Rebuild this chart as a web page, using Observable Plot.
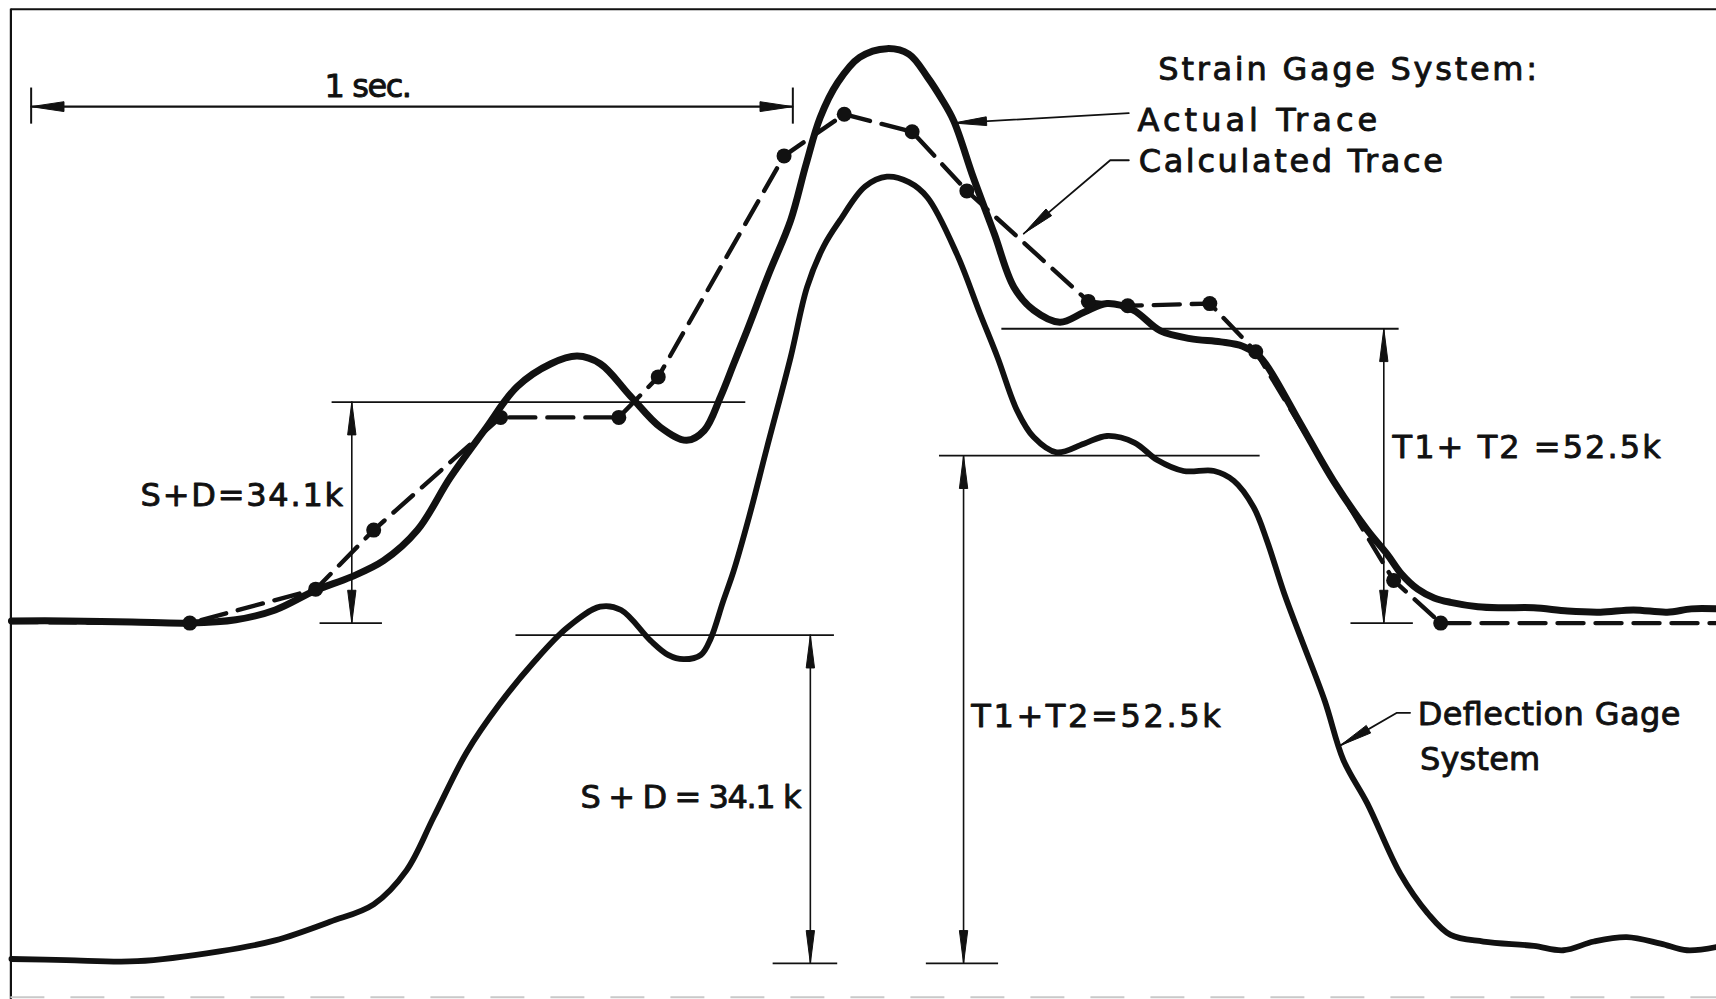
<!DOCTYPE html>
<html>
<head>
<meta charset="utf-8">
<script src="https://cdn.jsdelivr.net/npm/d3@7"></script>
<script src="https://cdn.jsdelivr.net/npm/@observablehq/plot@0.6"></script>
<style>
  html, body { margin: 0; padding: 0; background: #fff; overflow: hidden; }
  #chart svg { display: block; }
</style>
</head>
<body>
<div id="chart"></div>
<script>
// ---- Values (drawing units of the sheet: x to the right, y downward) ----

// Strain gage system, actual trace (solid)
const actualX = [10, 60, 120, 173, 215, 251, 288, 320, 350, 381, 411, 442, 472, 503, 527, 548, 576, 603, 627, 643, 658, 670, 682, 702, 722, 736, 749, 765, 785, 810, 830, 847, 860, 871, 889, 908, 926, 944, 968, 990, 1011, 1035, 1060, 1087, 1115, 1135, 1150, 1160, 1188, 1218, 1249, 1267, 1280, 1295, 1310, 1325, 1350, 1371, 1401, 1432, 1462, 1492, 1523, 1545, 1568];
const actualY = [567, 567, 568, 569, 566, 557, 539, 527, 512, 484, 436, 393, 353, 332, 325, 332, 362, 390, 402, 393, 362, 332, 302, 250, 201, 150, 107, 75, 52, 44, 49, 70, 90, 110, 162, 213, 262, 283, 294, 285, 277, 283, 302, 309, 312, 316, 325, 338, 387, 439, 484, 506, 524, 538, 546, 550, 554, 555, 555, 558, 559, 557, 559, 556, 556];

// Strain gage system, calculated trace (dashed, computed points)
const calcX = [10, 173, 288, 341, 457, 565, 601, 716, 771, 833, 883, 994, 1030, 1105, 1147, 1273, 1316, 1568];
const calcY = [568, 569, 538, 484, 381, 381, 344, 142, 104, 120, 174, 275, 279, 277, 321, 530, 569, 569];
const calcPoint = [false, true, true, true, true, true, true, true, true, true, true, true, true, true, true, true, true, false];

// Deflection gage system (solid)
const deflX = [10, 60, 125, 200, 251, 301, 341, 371, 396, 426, 456, 487, 518, 548, 567, 594, 610, 624, 640, 649, 660, 670, 684, 700, 722, 737, 752, 767, 790, 810, 830, 847, 874, 895, 911, 929, 944, 965, 990, 1011, 1036, 1057, 1081, 1109, 1127, 1145, 1157, 1173, 1188, 1210, 1227, 1249, 1279, 1304, 1325, 1355, 1401, 1428, 1456, 1486, 1517, 1541, 1568];
const deflY = [876, 877, 878, 869, 859, 842, 826, 795, 746, 687, 643, 605, 573, 554, 557, 585, 598, 602, 598, 583, 550, 521, 472, 410, 326, 262, 225, 201, 170, 161, 166, 180, 232, 286, 326, 375, 399, 413, 405, 398, 404, 420, 430, 430, 439, 463, 493, 542, 582, 640, 694, 734, 798, 834, 854, 860, 864, 868, 860, 856, 862, 868, 865];

// Load levels marked on the traces
const levelNames = ["S+D (strain)", "T1+T2 (strain)", "S+D (deflection)", "T1+T2 (deflection)"];
const levelValues = ["34.1k", "52.5k", "34.1k", "52.5k"];
const levelTop = [367, 300, 580, 416];
const levelBase = [569, 569, 880, 880];

// ---- Annotation layout ----
const dims = [
  {x: 321,  tx1: 303, tx2: 681,  bx1: 292,  bx2: 349},
  {x: 1264, tx1: 915, tx2: 1278, bx1: 1234, bx2: 1291},
  {x: 740,  tx1: 471, tx2: 762,  bx1: 706,  bx2: 765},
  {x: 880,  tx1: 858, tx2: 1151, bx1: 846,  bx2: 912}
];
const labels = [
  {text: "1 sec.", x: 336, y: 88, anchor: "middle", w: 80},
  {text: "Strain Gage System:", x: 1058, y: 73, anchor: "start", w: 346},
  {text: "Actual Trace", x: 1039, y: 119, anchor: "start", w: 219},
  {text: "Calculated Trace", x: 1040, y: 157, anchor: "start", w: 278},
  {text: "S+D=34.1k", x: 313, y: 462, anchor: "end", w: 185},
  {text: "T1+ T2 =52.5k", x: 1272, y: 418, anchor: "start", w: 245},
  {text: "S + D = 34.1 k", x: 732, y: 738, anchor: "end", w: 202},
  {text: "T1+T2=52.5k", x: 887, y: 664, anchor: "start", w: 228},
  {text: "Deflection Gage", x: 1295, y: 662, anchor: "start", w: 240},
  {text: "System", x: 1297, y: 703, anchor: "start", w: 110}
];
const leaders = [
  [{x: 1031, y: 103}, {x: 871, y: 112}],
  [{x: 1031, y: 146}, {x: 1014, y: 146}, {x: 935, y: 213}],
  [{x: 1288, y: 651}, {x: 1276, y: 651}, {x: 1224, y: 681}]
];
const scaleBar = {x1: 28, x2: 724, y: 97, tickTop: 80, tickBottom: 113};
const sheet = {left: 9.5, top: 8, right: 1568, bottom: 913};

// ---- Build mark tables ----
const actual = actualX.map((x, i) => ({x, y: actualY[i]}));
const calc = calcX.map((x, i) => ({x, y: calcY[i], pt: calcPoint[i]}));
const defl = deflX.map((x, i) => ({x, y: deflY[i]}));

const verticals = dims.map((d, i) => ({x: d.x, y1: levelTop[i], y2: levelBase[i]}));
const horizontals = dims.flatMap((d, i) => [
  {y: levelTop[i], x1: d.tx1, x2: d.tx2},
  {y: levelBase[i], x1: d.bx1, x2: d.bx2}
]);

function head(from, tip, len, half, id) {
  const dx = tip.x - from.x, dy = tip.y - from.y, d = Math.hypot(dx, dy);
  const ux = dx / d, uy = dy / d;
  const bx = tip.x - ux * len, by = tip.y - uy * len;
  return [
    {x: tip.x, y: tip.y, id},
    {x: bx - uy * half, y: by + ux * half, id},
    {x: bx + uy * half, y: by - ux * half, id},
    {x: tip.x, y: tip.y, id}
  ];
}
const heads = [];
verticals.forEach((v, i) => {
  heads.push(...head({x: v.x, y: v.y2}, {x: v.x, y: v.y1}, 30, 3.8, "dt" + i));
  heads.push(...head({x: v.x, y: v.y1}, {x: v.x, y: v.y2}, 30, 3.8, "db" + i));
});
heads.push(...head({x: scaleBar.x2, y: scaleBar.y}, {x: scaleBar.x1, y: scaleBar.y}, 30, 4.5, "sl"));
heads.push(...head({x: scaleBar.x1, y: scaleBar.y}, {x: scaleBar.x2, y: scaleBar.y}, 30, 4.5, "sr"));
leaders.forEach((l, i) => heads.push(...head(l[l.length - 2], l[l.length - 1], 30, 4, "l" + i)));
const leaderPts = leaders.flatMap((l, i) => l.map(p => ({...p, id: i})));

const W = 1716, H = 999, XMAX = 1568, YMAX = 913;
const ink = "#111";
const textOpts = {x: "x", y: "y", text: "text", lineAnchor: "bottom", fontSize: 32, fill: ink, stroke: ink, strokeWidth: 0.9};
const chart = Plot.plot({
  width: W,
  height: H,
  margin: 0,
  x: {domain: [0, XMAX], axis: null},
  y: {domain: [0, YMAX], reverse: true, axis: null},
  style: {fontFamily: "'DejaVu Sans', sans-serif", background: "#fff", color: ink},
  marks: [
    // sheet border
    Plot.ruleY([sheet.top], {x1: sheet.left, x2: sheet.right, stroke: ink, strokeWidth: 2.2}),
    Plot.ruleX([sheet.left], {y1: sheet.top, y2: sheet.bottom, stroke: ink, strokeWidth: 2.2}),
    Plot.ruleY([911], {x1: sheet.left, x2: sheet.right, stroke: "#c9c9c9", strokeWidth: 2, strokeDasharray: "34,26"}),
    // scale bar
    Plot.ruleY([scaleBar.y], {x1: scaleBar.x1, x2: scaleBar.x2, stroke: ink, strokeWidth: 2.2}),
    Plot.ruleX([scaleBar.x1, scaleBar.x2], {y1: scaleBar.tickTop, y2: scaleBar.tickBottom, stroke: ink, strokeWidth: 2}),
    // level lines and dimension arrows
    Plot.ruleY(horizontals, {y: "y", x1: "x1", x2: "x2", stroke: ink, strokeWidth: 1.8}),
    Plot.ruleX(verticals, {x: "x", y1: "y1", y2: "y2", stroke: ink, strokeWidth: 1.6}),
    // traces
    Plot.line(defl, {x: "x", y: "y", curve: "catmull-rom", stroke: ink, strokeWidth: 5.8, strokeLinejoin: "round", strokeLinecap: "round"}),
    Plot.line(actual, {x: "x", y: "y", curve: "catmull-rom", stroke: ink, strokeWidth: 7, strokeLinejoin: "round", strokeLinecap: "round"}),
    Plot.line(calc, {x: "x", y: "y", stroke: ink, strokeWidth: 4.4, strokeDasharray: "26,12"}),
    Plot.dot(calc.filter(d => d.pt), {x: "x", y: "y", r: 7.5, fill: ink, stroke: null}),
    // leaders
    Plot.line(leaderPts, {x: "x", y: "y", z: "id", stroke: ink, strokeWidth: 1.8}),
    // arrowheads
    Plot.line(heads, {x: "x", y: "y", z: "id", fill: ink, stroke: ink, strokeWidth: 1}),
    // text
    Plot.text(labels.filter(d => d.anchor === "start"), {...textOpts, textAnchor: "start"}),
    Plot.text(labels.filter(d => d.anchor === "middle"), {...textOpts, textAnchor: "middle"}),
    Plot.text(labels.filter(d => d.anchor === "end"), {...textOpts, textAnchor: "end"})
  ]
});
// stretch each label to the lettered width of the original drawing
const widthByText = new Map(labels.map(d => [d.text, d.w * W / XMAX]));
chart.querySelectorAll("text").forEach(t => {
  const w = widthByText.get(t.textContent);
  if (w) { t.setAttribute("textLength", w); t.setAttribute("lengthAdjust", "spacing"); }
});
document.getElementById("chart").append(chart);
</script>
</body>
</html>
